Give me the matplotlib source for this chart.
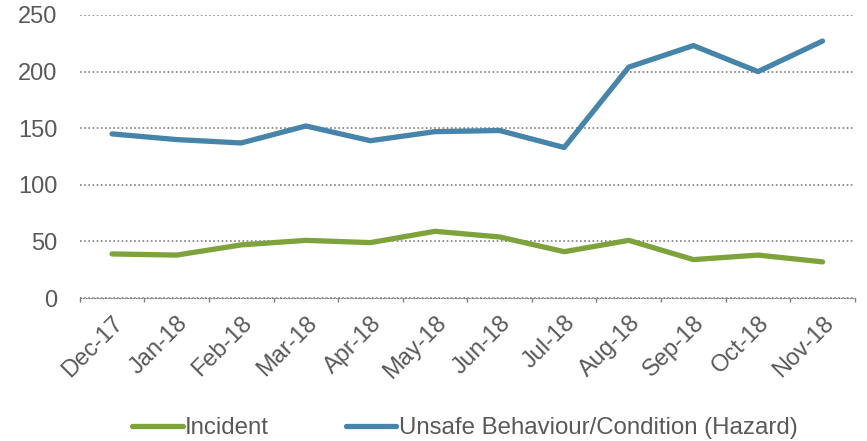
import numpy as np
import matplotlib.pyplot as plt

plt.rcParams['font.family'] = ['Liberation Sans', 'DejaVu Sans']

months = ['Dec-17', 'Jan-18', 'Feb-18', 'Mar-18', 'Apr-18', 'May-18',
          'Jun-18', 'Jul-18', 'Aug-18', 'Sep-18', 'Oct-18', 'Nov-18']
incident = [39, 38, 47, 51, 49, 59, 54, 41, 51, 34, 38, 32]
hazard = [145, 140, 137, 152, 139, 147, 148, 133, 204, 223, 200, 227]

grey = '#595959'
fig = plt.figure(figsize=(8.67, 4.41), dpi=100)
ax = fig.add_axes([0.092, 0.324, 0.894, 0.642])

x = np.arange(len(months))
ax.plot(x, incident, color='#7fa33c', lw=3.8, solid_capstyle='round', label='Incident')
ax.plot(x, hazard, color='#4684aa', lw=3.8, solid_capstyle='round',
        label='Unsafe Behaviour/Condition (Hazard)')

ax.set_xlim(-0.5, len(months) - 0.5)
ax.set_ylim(0, 250)
ax.set_yticks(range(0, 251, 50))
ax.yaxis.grid(True, linestyle=(0, (1, 1.5)), color='#7f7f7f', lw=1.2)
ax.set_axisbelow(True)
for s in ['top', 'right', 'left']:
    ax.spines[s].set_visible(False)
ax.spines['bottom'].set_linestyle((0, (1, 1.5)))
ax.spines['bottom'].set_color('#7f7f7f')
ax.tick_params(axis='y', length=0, labelsize=17, labelcolor=grey, pad=16)

ax.set_xticks(x)
ax.set_xticklabels(months, rotation=45, ha='right', rotation_mode='anchor',
                   fontsize=17, color=grey)
ax.tick_params(axis='x', length=0, pad=10)
ax.set_xticks(np.arange(-0.5, len(months)), minor=True)
ax.tick_params(axis='x', which='minor', length=3, color='#7f7f7f', width=1)

fig.legend(loc='lower center', bbox_to_anchor=(0.536, -0.045), ncol=2, frameon=False,
           fontsize=17.3, labelcolor=grey, handlelength=2.1, handletextpad=0.1,
           columnspacing=3.2)

plt.savefig('out.png')
